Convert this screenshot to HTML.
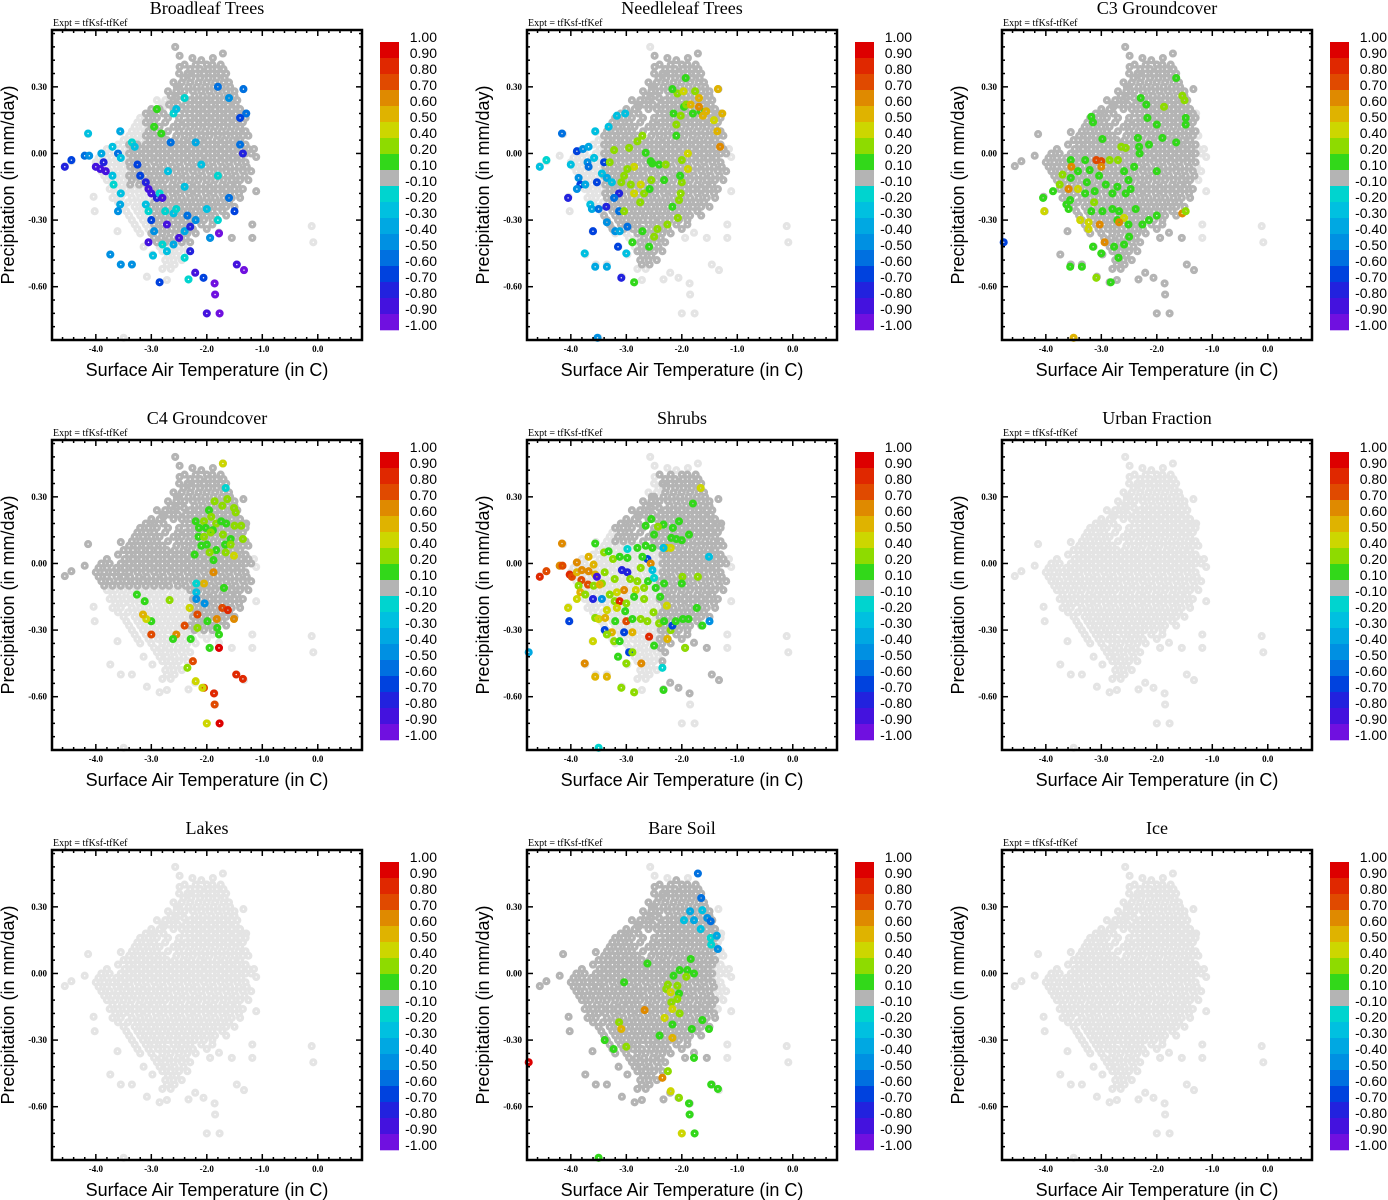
<!DOCTYPE html>
<html><head><meta charset="utf-8"><title>Scatter panels</title>
<style>
html,body{margin:0;padding:0;background:#fff;}
svg{display:block;}
.ttl{font-family:"Liberation Serif",serif;font-size:18px;}
.expt{font-family:"Liberation Serif",serif;font-size:10px;}
.tk{font-family:"Liberation Serif",serif;font-size:9px;font-weight:bold;}
.ax{font-family:"Liberation Sans",sans-serif;font-size:18px;}
.cb{font-family:"Liberation Sans",sans-serif;font-size:14px;}
</style></head>
<body>
<svg id="fig" width="1388" height="1200" viewBox="0 0 1388 1200" xmlns="http://www.w3.org/2000/svg"></svg>
<script>
// ---------- data ----------
const panelTitles = ["Broadleaf Trees","Needleleaf Trees","C3 Groundcover","C4 Groundcover","Shrubs","Urban Fraction","Lakes","Bare Soil","Ice"];
const xTicks = [-4,-3,-2,-1,0];
const xTickLabels = ["-4.0","-3.0","-2.0","-1.0","0.0"];
const yTicks = [0.3,0,-0.3,-0.6];
const yTickLabels = ["0.30","0.00","-0.30","-0.60"];
const cbLabels = ["1.00","0.90","0.80","0.70","0.60","0.50","0.40","0.20","0.10","-0.10","-0.20","-0.30","-0.40","-0.50","-0.60","-0.70","-0.80","-0.90","-1.00"];
const cbColors = ["#dd0000","#e02800","#e04a00","#df8a00","#dfb300","#cdd600","#8edb00","#32d81a","#b4b4b4","#00d4cf","#00c0e0","#00a8e2","#0090e2","#0070e0","#0042de","#2222de","#4412de","#7010e0"];
const cbEdges = [1.0,0.9,0.8,0.7,0.6,0.5,0.4,0.2,0.1,-0.1,-0.2,-0.3,-0.4,-0.5,-0.6,-0.7,-0.8,-0.9,-1.0];

// base cloud: rows of [y, xs]
const baseRows = [
 [0.40,[-2.4,-2.2,-2.0,-1.9,-1.75]],
 [0.36,[-2.5,-2.35,-2.2,-2.05,-1.9,-1.75,-1.65]],
 [0.32,[-2.6,-2.45,-2.3,-2.15,-2.0,-1.85,-1.7,-1.6]],
 [0.28,[-2.7,-2.55,-2.4,-2.25,-2.1,-1.95,-1.8,-1.65,-1.5]],
 [0.24,[-2.9,-2.75,-2.6,-2.3,-2.15,-2.0,-1.85,-1.7,-1.55,-1.45]],
 [0.20,[-3.0,-2.85,-2.6,-2.45,-2.3,-2.15,-2.0,-1.85,-1.7,-1.55,-1.4]],
 [0.16,[-3.2,-3.05,-2.9,-2.7,-2.5,-2.3,-2.15,-2.0,-1.85,-1.7,-1.55,-1.4,-1.3]],
 [0.12,[-3.3,-3.15,-3.0,-2.85,-2.6,-2.45,-2.3,-2.15,-2.0,-1.85,-1.7,-1.55,-1.4]],
 [0.08,[-3.4,-3.25,-3.1,-2.95,-2.8,-2.55,-2.4,-2.25,-2.1,-1.95,-1.8,-1.65,-1.5,-1.35,-1.25]],
 [0.04,[-3.6,-3.4,-3.25,-3.1,-2.95,-2.8,-2.65,-2.5,-2.35,-2.2,-2.05,-1.9,-1.75,-1.6,-1.45,-1.3]],
 [0.00,[-3.9,-3.75,-3.55,-3.4,-3.25,-3.1,-2.95,-2.8,-2.65,-2.5,-2.35,-2.2,-2.05,-1.9,-1.75,-1.6,-1.45,-1.3,-1.2]],
 [-0.04,[-4.0,-3.85,-3.7,-3.55,-3.4,-3.25,-3.1,-2.95,-2.8,-2.65,-2.5,-2.35,-2.2,-2.05,-1.9,-1.75,-1.6,-1.45,-1.3]],
 [-0.08,[-3.9,-3.75,-3.6,-3.45,-3.3,-3.15,-3.0,-2.85,-2.7,-2.55,-2.4,-2.25,-2.1,-1.95,-1.8,-1.65,-1.5,-1.35,-1.2]],
 [-0.12,[-3.8,-3.65,-3.5,-3.35,-3.2,-3.05,-2.9,-2.75,-2.6,-2.45,-2.3,-2.15,-2.0,-1.85,-1.7,-1.55,-1.4,-1.25]],
 [-0.16,[-3.75,-3.6,-3.45,-3.3,-3.15,-3.0,-2.85,-2.7,-2.55,-2.4,-2.25,-2.1,-1.95,-1.8,-1.65,-1.5,-1.35]],
 [-0.20,[-3.7,-3.55,-3.35,-3.2,-3.05,-2.9,-2.75,-2.6,-2.45,-2.3,-2.15,-2.0,-1.85,-1.7,-1.55,-1.4]],
 [-0.24,[-3.5,-3.3,-3.15,-3.0,-2.85,-2.7,-2.55,-2.4,-2.25,-2.1,-1.95,-1.8,-1.65,-1.5]],
 [-0.28,[-3.4,-3.2,-3.05,-2.9,-2.75,-2.6,-2.45,-2.3,-2.15,-2.0,-1.85,-1.65]],
 [-0.32,[-3.3,-3.1,-2.95,-2.8,-2.6,-2.45,-2.3,-2.1,-1.9]],
 [-0.36,[-3.2,-3.0,-2.8,-2.65,-2.5,-2.35,-2.2]],
 [-0.40,[-2.9,-2.75,-2.6,-2.45,-2.3]],
 [-0.44,[-2.8,-2.65,-2.5,-2.35]],
 [-0.48,[-2.75,-2.6,-2.45]],
 [-0.52,[-2.8,-2.65]]
];
// interleaved rows to fill the dense core
const baseRows2 = [
 [0.38,[-2.3,-2.12,-1.98,-1.82,-1.7]],
 [0.34,[-2.42,-2.28,-2.12,-1.97,-1.82,-1.68]],
 [0.30,[-2.5,-2.33,-2.18,-2.03,-1.88,-1.73,-1.58]],
 [0.26,[-2.65,-2.48,-2.22,-2.07,-1.92,-1.77,-1.62,-1.5]],
 [0.22,[-2.8,-2.68,-2.52,-2.38,-2.22,-2.07,-1.92,-1.77,-1.62,-1.48]],
 [0.18,[-3.1,-2.95,-2.78,-2.4,-2.22,-2.07,-1.92,-1.77,-1.62,-1.48,-1.35]],
 [0.14,[-3.25,-3.1,-2.95,-2.75,-2.52,-2.38,-2.22,-2.07,-1.92,-1.77,-1.62,-1.48,-1.35]],
 [0.10,[-3.35,-3.2,-3.05,-2.9,-2.7,-2.5,-2.33,-2.18,-2.03,-1.88,-1.73,-1.58,-1.43,-1.3]],
 [0.06,[-3.5,-3.33,-3.18,-3.03,-2.88,-2.72,-2.58,-2.42,-2.28,-2.12,-1.98,-1.82,-1.68,-1.53,-1.4]],
 [0.02,[-3.8,-3.48,-3.33,-3.18,-3.03,-2.88,-2.72,-2.58,-2.42,-2.28,-2.12,-1.98,-1.82,-1.68,-1.53,-1.38,-1.25]],
 [-0.02,[-3.95,-3.8,-3.63,-3.48,-3.33,-3.18,-3.03,-2.88,-2.72,-2.58,-2.42,-2.28,-2.12,-1.98,-1.82,-1.68,-1.53,-1.38]],
 [-0.06,[-3.95,-3.8,-3.63,-3.5,-3.38,-3.22,-3.08,-2.92,-2.78,-2.62,-2.48,-2.32,-2.18,-2.02,-1.88,-1.72,-1.58,-1.42,-1.28]],
 [-0.10,[-3.85,-3.7,-3.55,-3.4,-3.25,-3.1,-2.95,-2.8,-2.68,-2.52,-2.38,-2.22,-2.08,-1.92,-1.78,-1.62,-1.48,-1.32]],
 [-0.14,[-3.7,-3.53,-3.38,-3.22,-3.08,-2.95,-2.8,-2.62,-2.48,-2.32,-2.18,-2.02,-1.88,-1.72,-1.58,-1.45]],
 [-0.18,[-3.65,-3.5,-3.38,-3.22,-3.08,-2.92,-2.78,-2.62,-2.48,-2.32,-2.18,-2.02,-1.88,-1.72,-1.58,-1.42]],
 [-0.22,[-3.6,-3.42,-3.25,-3.1,-2.95,-2.8,-2.65,-2.5,-2.35,-2.2,-2.05,-1.9,-1.75,-1.6]],
 [-0.26,[-3.45,-3.25,-3.1,-2.95,-2.8,-2.65,-2.5,-2.35,-2.2,-2.05,-1.9,-1.72]],
 [-0.30,[-3.35,-3.15,-3.0,-2.85,-2.7,-2.52,-2.38,-2.22,-2.05,-1.9]],
 [-0.34,[-3.25,-3.05,-2.88,-2.72,-2.55,-2.4,-2.25,-2.0]],
 [-0.38,[-2.95,-2.82,-2.68,-2.52,-2.38]],
 [-0.42,[-2.85,-2.72,-2.58,-2.42]],
 [-0.46,[-2.7,-2.55]],
 [-0.50,[-2.72,-2.58]]
];
const baseOutliers = [[-4.56,-0.057],[-4.44,-0.035],[-4.2,-0.01],[-4.14,0.087],[-4.04,-0.195],[-4.02,-0.26],[-3.61,-0.35],[-3.74,-0.455],[-3.55,-0.5],[-3.35,-0.5],[-3.08,-0.555],[-2.98,-0.455],[-3.14,-0.42],[-2.85,-0.58],[-2.72,-0.57],[-2.33,-0.567],[-2.21,-0.537],[-2.06,-0.56],[-1.86,-0.585],[-1.85,-0.635],[-2.0,-0.72],[-1.77,-0.72],[-1.46,-0.5],[-1.33,-0.525],[-1.94,-0.38],[-1.78,-0.357],[-1.55,-0.38],[-1.18,-0.32],[-1.18,-0.38],[-0.11,-0.327],[-0.08,-0.4],[-1.11,-0.17],[-1.11,-0.016],[-1.15,0.02],[-1.29,0.18],[-1.34,0.29],[-1.71,0.45],[-1.89,0.43],[-2.1,0.42],[-2.26,0.43],[-2.57,0.48],[-2.49,0.44],[-2.49,0.39],[-2.33,0.36],[-2.54,0.3],[-2.55,0.25],[-2.41,0.25],[-2.78,0.21],[-3.01,0.18],[-3.55,0.096],[-3.5,-0.83]];

// dark-gray (|v|<0.1) regions per panel: [xmin,xmax,ymin,ymax]
const broadleafDark = [[-2.7,-1.1,-0.4,0.5],[-3.1,-2.7,0.0,0.2],[-3.0,-2.0,-0.4,0.0],[-3.4,-2.7,-0.15,0.05]];
const needleDark = [[-3.4,-1.2,-0.35,0.45],[-2.8,-2.2,-0.5,-0.35]];
const c3Dark = [[-4.6,-1.3,-0.75,0.5]];
const c4Dark = [[-4.6,-2.3,-0.1,0.35],[-2.3,-1.2,-0.3,0.45],[-2.7,-2.3,0.1,0.5]];
const shrubDark = [[-2.4,-1.2,-0.6,0.4],[-3.2,-2.3,0.1,0.3]];
const urbanDark = [];
const lakesDark = [];
const bareDark = [[-4.6,-1.4,-0.62,0.42]];
const iceDark = [];

// coloured points per panel: [x, y, value]
const broadleafPts = [[-4.56,-0.06,-0.75],[-4.44,-0.03,-0.7],[-4.2,-0.01,-0.55],[-4.12,-0.01,-0.5],[-4.14,0.09,-0.25],[-4.0,-0.06,-0.85],[-3.92,-0.07,-0.85],[-3.86,-0.04,-0.75],[-3.82,-0.08,-0.85],[-3.9,0.0,-0.4],[-3.7,-0.1,-0.25],[-3.68,-0.14,-0.2],[-3.7,0.03,-0.3],[-3.6,0.0,-0.6],[-3.55,-0.02,-0.3],[-3.56,0.1,-0.4],[-3.55,-0.18,-0.3],[-3.56,-0.23,-0.4],[-3.6,-0.26,-0.45],[-3.35,0.05,-0.2],[-3.3,0.03,-0.25],[-3.25,-0.05,-0.7],[-3.2,-0.1,-0.7],[-3.1,-0.13,-0.8],[-3.05,-0.16,-0.85],[-3.0,-0.18,-0.85],[-3.1,-0.23,-0.3],[-3.05,-0.26,-0.2],[-3.0,-0.3,-0.7],[-2.95,-0.35,-0.45],[-2.9,-0.2,-0.8],[-2.85,-0.18,-0.2],[-2.8,-0.2,-0.85],[-2.75,-0.26,-0.2],[-2.7,-0.08,-0.25],[-2.72,-0.32,-0.9],[-2.6,-0.27,-0.3],[-2.55,-0.25,-0.2],[-2.5,-0.38,-0.85],[-2.4,-0.35,-0.4],[-2.35,-0.28,-0.55],[-2.3,-0.33,-0.8],[-2.2,-0.3,-0.5],[-2.9,0.2,0.12],[-2.95,0.12,0.15],[-2.82,0.09,0.12],[-2.6,0.18,-0.2],[-2.55,0.2,-0.25],[-2.4,0.25,-0.2],[-2.65,0.05,-0.6],[-3.05,-0.4,-0.85],[-2.8,-0.41,-0.2],[-2.72,-0.44,-0.3],[-2.6,-0.41,-0.4],[-2.3,-0.44,-0.8],[-2.4,-0.47,-0.2],[-2.97,-0.46,-0.3],[-3.74,-0.455,-0.45],[-3.55,-0.5,-0.5],[-3.35,-0.5,-0.45],[-2.85,-0.58,-0.7],[-2.33,-0.567,-0.2],[-2.21,-0.537,-0.85],[-2.06,-0.56,-0.7],[-1.86,-0.585,-0.95],[-1.85,-0.635,-0.95],[-2.0,-0.72,-0.9],[-1.77,-0.72,-0.95],[-1.46,-0.5,-0.9],[-1.33,-0.525,-0.95],[-1.94,-0.38,-0.5],[-1.78,-0.36,-0.95],[-1.8,-0.3,-0.2],[-1.5,-0.26,-0.7],[-1.6,-0.2,-0.6],[-1.34,0.29,-0.6],[-1.29,0.18,-0.6],[-1.4,0.16,-0.7],[-1.6,0.25,-0.5],[-1.8,0.3,-0.6],[-1.4,0.04,-0.6],[-1.35,0.0,-0.8],[-1.8,-0.1,-0.2],[-2.2,0.05,-0.4],[-2.1,-0.05,-0.3],[-2.4,-0.15,-0.3],[-2.0,-0.25,-0.3]];
const needlePts = [[-4.16,0.09,-0.6],[-4.56,-0.06,-0.25],[-4.44,-0.03,-0.2],[-4.0,-0.05,-0.3],[-4.05,-0.2,-0.75],[-3.89,0.01,-0.65],[-3.78,0.02,-0.5],[-3.68,0.03,-0.4],[-3.7,-0.04,-0.5],[-3.68,-0.06,-0.55],[-3.86,-0.11,-0.5],[-3.83,-0.14,-0.7],[-3.74,-0.14,-0.35],[-3.89,-0.16,-0.45],[-3.58,-0.02,-0.25],[-3.56,0.1,-0.25],[-3.53,-0.13,-0.7],[-3.44,-0.09,-0.25],[-3.4,-0.04,-0.7],[-3.35,-0.11,-0.4],[-3.26,-0.13,-0.3],[-3.65,-0.23,-0.3],[-3.62,-0.25,-0.4],[-3.5,-0.25,-0.55],[-3.36,-0.24,-0.8],[-3.13,-0.18,-0.8],[-3.22,-0.2,-0.6],[-3.13,-0.26,-0.55],[-3.35,-0.31,-0.45],[-3.2,-0.35,-0.5],[-3.12,-0.35,-0.4],[-2.98,-0.33,-0.6],[-3.6,-0.35,-0.7],[-3.75,-0.45,-0.3],[-3.56,-0.51,-0.35],[-3.35,-0.51,-0.4],[-3.15,-0.42,-0.7],[-3.0,-0.45,-0.25],[-3.09,-0.56,-0.75],[-3.02,0.18,-0.25],[-3.17,0.17,-0.25],[-3.32,0.12,-0.3],[-3.52,-0.83,-0.5],[-2.86,-0.58,0.15],[-2.71,-0.35,0.15],[-2.89,-0.4,0.15],[-2.59,-0.42,0.12],[-2.5,-0.375,0.3],[-2.44,-0.34,0.3],[-2.26,-0.32,0.2],[-2.07,-0.29,0.3],[-2.17,-0.24,0.15],[-2.05,-0.21,0.3],[-2.02,-0.18,0.3],[-2.0,-0.13,0.3],[-2.03,-0.1,0.15],[-2.0,-0.03,0.3],[-1.89,0.0,0.45],[-1.89,-0.07,0.45],[-2.1,0.08,0.15],[-2.1,0.13,0.2],[-2.15,0.18,0.12],[-2.02,0.17,0.3],[-1.96,0.21,0.15],[-1.92,0.22,0.2],[-1.8,0.18,0.15],[-1.66,0.19,0.15],[-2.08,0.27,0.3],[-1.97,0.28,0.45],[-2.17,0.29,0.12],[-1.93,0.34,0.15],[-1.76,0.28,0.3],[-1.84,0.22,0.55],[-1.69,0.21,0.65],[-1.69,0.25,0.55],[-1.62,0.17,0.55],[-1.56,0.19,0.5],[-1.42,0.15,0.45],[-1.35,0.29,0.55],[-1.27,0.18,0.55],[-1.36,0.1,0.55],[-1.31,0.03,0.65],[-2.8,0.055,0.3],[-2.71,0.08,0.2],[-2.95,0.025,0.3],[-3.22,0.015,0.3],[-3.3,-0.04,0.3],[-2.86,-0.06,0.45],[-2.98,-0.07,0.2],[-3.04,-0.1,0.3],[-3.09,-0.13,0.2],[-2.92,-0.14,0.3],[-2.74,-0.14,0.45],[-2.68,-0.18,0.3],[-2.75,-0.22,0.2],[-3.04,-0.26,0.3],[-2.86,-0.18,0.45],[-2.58,-0.16,0.12],[-2.53,-0.045,0.15],[-2.41,-0.05,0.15],[-2.29,-0.05,0.2],[-2.65,0.003,0.15],[-2.56,-0.035,0.12],[-2.55,-0.12,0.3],[-2.32,-0.12,0.15]];
const c3Pts = [[-1.65,0.34,0.15],[-1.54,0.26,0.3],[-1.5,0.24,0.3],[-1.87,0.21,0.3],[-2.29,0.25,0.15],[-2.19,0.22,0.15],[-2.17,0.16,0.15],[-2.0,0.13,0.15],[-1.48,0.16,0.15],[-1.48,0.13,0.15],[-1.9,0.07,0.15],[-1.65,0.05,0.15],[-2.14,0.04,0.15],[-2.34,0.07,0.15],[-2.32,0.03,0.15],[-2.31,0.0,0.15],[-2.0,-0.08,0.15],[-2.64,0.03,0.3],[-2.56,0.025,0.3],[-3.18,0.165,0.15],[-3.15,0.14,0.15],[-2.98,0.065,0.15],[-2.7,-0.03,0.3],[-2.85,-0.03,0.3],[-3.09,-0.03,0.7],[-3.0,-0.035,0.7],[-3.0,-0.06,0.65],[-3.55,-0.03,0.15],[-3.54,-0.06,0.65],[-3.7,-0.095,0.3],[-3.75,-0.14,0.3],[-3.55,-0.11,0.15],[-3.87,-0.17,0.15],[-4.05,-0.2,0.15],[-4.03,-0.26,0.45],[-3.59,-0.16,0.6],[-3.42,-0.16,0.45],[-3.56,-0.21,0.15],[-3.63,-0.23,0.15],[-3.59,-0.25,0.15],[-3.29,-0.18,0.15],[-3.42,-0.08,0.15],[-3.29,-0.03,0.15],[-3.21,-0.075,0.15],[-3.04,-0.1,0.15],[-3.26,-0.13,0.15],[-3.12,-0.17,0.15],[-3.13,-0.22,0.3],[-3.18,-0.26,0.15],[-3.38,-0.3,0.45],[-3.23,-0.31,0.45],[-3.23,-0.34,0.45],[-3.03,-0.32,0.6],[-2.98,-0.26,0.15],[-2.92,-0.14,0.15],[-2.8,-0.18,0.15],[-2.71,-0.15,0.15],[-2.56,-0.18,0.15],[-2.47,-0.16,0.15],[-2.59,-0.08,0.15],[-2.51,-0.12,0.15],[-2.41,-0.06,0.15],[-2.8,-0.25,0.15],[-2.68,-0.26,0.15],[-2.71,-0.3,0.15],[-2.59,-0.29,0.45],[-2.68,-0.31,0.65],[-2.51,-0.32,0.15],[-2.38,-0.25,0.15],[-2.26,-0.32,0.15],[-2.14,-0.3,0.15],[-2.0,-0.28,0.15],[-1.54,-0.27,0.65],[-1.48,-0.26,0.3],[-2.5,-0.375,0.15],[-2.94,-0.4,0.6],[-2.77,-0.42,0.15],[-2.59,-0.41,0.15],[-2.69,-0.47,0.15],[-3.15,-0.42,0.15],[-3.0,-0.45,0.15],[-3.56,-0.51,0.15],[-3.35,-0.51,0.15],[-3.09,-0.56,0.3],[-2.83,-0.58,0.15],[-3.5,-0.83,0.55],[-4.76,-0.4,-0.65]];
const c4Pts = [[-1.71,0.45,0.45],[-1.66,0.34,-0.2],[-1.86,0.28,0.3],[-1.96,0.24,0.15],[-1.63,0.29,0.3],[-1.72,0.26,0.3],[-1.51,0.25,0.3],[-1.48,0.23,0.3],[-2.2,0.19,0.15],[-2.05,0.19,0.3],[-1.92,0.21,0.3],[-1.83,0.18,0.3],[-1.74,0.19,0.15],[-1.65,0.18,0.15],[-1.5,0.17,0.3],[-1.38,0.17,0.3],[-1.35,0.11,0.3],[-2.14,0.16,0.15],[-2.02,0.16,0.15],[-1.89,0.15,0.15],[-2.15,0.12,0.15],[-2.05,0.12,0.3],[-1.93,0.14,0.3],[-1.71,0.13,0.3],[-1.57,0.11,0.15],[-2.1,0.08,0.15],[-2.0,0.085,0.15],[-1.83,0.06,0.15],[-1.67,0.085,0.15],[-1.57,0.085,0.3],[-2.22,0.04,0.15],[-1.95,0.05,0.3],[-1.88,0.015,0.15],[-1.66,0.05,0.3],[-1.51,0.035,0.45],[-1.88,-0.04,0.65],[-2.05,-0.09,0.55],[-2.19,-0.09,-0.2],[-2.19,-0.13,-0.3],[-2.19,-0.16,-0.5],[-2.04,-0.18,-0.45],[-1.69,-0.11,0.15],[-1.72,-0.2,0.75],[-1.62,-0.21,0.8],[-1.82,-0.25,0.65],[-1.51,-0.25,0.6],[-1.99,-0.26,0.15],[-2.17,-0.23,0.75],[-2.31,-0.2,0.45],[-2.17,-0.29,0.3],[-2.4,-0.28,0.75],[-2.55,-0.32,0.65],[-2.61,-0.34,0.15],[-2.29,-0.34,0.15],[-1.81,-0.29,0.15],[-1.78,-0.32,0.15],[-1.95,-0.38,0.15],[-1.78,-0.38,0.95],[-3.0,-0.32,0.75],[-3.0,-0.26,0.15],[-3.09,-0.25,0.45],[-3.15,-0.23,0.55],[-3.12,-0.17,0.15],[-2.67,-0.165,0.3],[-3.26,-0.14,0.15],[-2.25,-0.44,0.75],[-2.35,-0.47,0.3],[-2.2,-0.53,0.45],[-2.05,-0.56,0.75],[-2.08,-0.56,0.45],[-1.87,-0.585,0.8],[-1.86,-0.635,0.75],[-2.0,-0.72,0.45],[-1.77,-0.72,0.95],[-1.47,-0.5,0.8],[-1.35,-0.52,0.8]];
const shrubPts = [[-4.56,-0.06,0.8],[-4.44,-0.035,0.75],[-4.16,0.09,0.65],[-4.2,-0.01,0.65],[-4.15,-0.01,0.75],[-4.02,-0.05,0.8],[-3.98,-0.06,0.75],[-3.89,0.005,0.6],[-3.81,-0.075,0.75],[-3.69,-0.095,0.75],[-3.89,-0.04,0.55],[-3.8,-0.03,0.65],[-3.68,0.03,0.55],[-3.59,-0.005,0.55],[-3.56,-0.05,0.5],[-3.68,-0.035,0.65],[-3.86,-0.1,0.3],[-3.83,-0.13,0.55],[-3.89,-0.16,0.45],[-3.74,-0.14,0.3],[-3.56,0.09,0.15],[-4.05,-0.2,0.45],[-4.03,-0.26,-0.7],[-3.6,-0.16,-0.75],[-3.53,-0.06,-0.9],[-3.59,-0.1,0.3],[-3.44,-0.16,-0.5],[-3.44,-0.09,0.3],[-3.48,-0.095,0.55],[-3.39,-0.04,0.3],[-3.4,0.05,0.3],[-3.32,0.055,0.15],[-3.24,0.02,0.3],[-3.12,0.03,0.15],[-2.98,0.065,-0.2],[-3.08,-0.03,-0.8],[-2.98,-0.04,-0.8],[-3.21,-0.07,0.3],[-3.04,-0.12,0.65],[-3.17,-0.13,0.45],[-3.3,-0.14,0.3],[-3.21,-0.17,0.3],[-3.12,-0.17,0.85],[-3.0,-0.18,0.3],[-2.93,-0.07,0.3],[-2.8,-0.08,0.3],[-2.68,-0.11,0.3],[-2.83,-0.12,0.45],[-2.68,-0.16,0.3],[-2.86,-0.15,0.15],[-3.35,-0.21,0.45],[-3.17,-0.2,0.45],[-3.02,-0.215,0.15],[-3.56,-0.245,0.3],[-3.5,-0.25,0.45],[-3.38,-0.245,0.55],[-3.2,-0.26,0.15],[-3.0,-0.26,0.7],[-2.89,-0.25,0.15],[-2.74,-0.25,0.3],[-3.39,-0.3,-0.7],[-3.26,-0.31,0.55],[-3.35,-0.32,0.3],[-3.22,-0.35,0.3],[-3.12,-0.35,0.15],[-3.04,-0.31,-0.7],[-2.89,-0.31,0.55],[-3.6,-0.35,0.45],[-2.95,-0.4,-0.7],[-2.89,-0.4,0.3],[-3.15,-0.42,0.15],[-3.0,-0.45,0.3],[-2.73,-0.45,0.65],[-3.75,-0.45,0.65],[-3.56,-0.51,0.55],[-3.35,-0.51,0.55],[-3.09,-0.56,0.3],[-2.86,-0.58,0.3],[-2.59,-0.33,0.85],[-2.5,-0.37,0.15],[-2.26,-0.34,0.55],[-2.33,-0.57,0.15],[-2.35,-0.47,-0.2],[-2.62,-0.26,0.3],[-2.51,-0.22,0.3],[-2.41,-0.27,0.3],[-2.32,-0.26,0.15],[-2.27,-0.19,0.45],[-2.2,-0.3,0.3],[-2.17,-0.28,-0.7],[-2.11,-0.26,0.15],[-1.98,-0.25,0.15],[-1.88,-0.25,0.15],[-1.73,-0.2,0.15],[-1.63,-0.28,0.15],[-1.5,-0.26,-0.45],[-1.94,-0.38,0.3],[-2.74,-0.02,0.3],[-2.62,0.02,-0.65],[-2.56,0.0,0.65],[-2.53,0.07,0.15],[-2.65,0.08,0.15],[-2.8,0.07,0.15],[-2.71,0.03,0.15],[-2.98,0.025,0.15],[-2.61,-0.08,0.15],[-2.5,-0.065,-0.2],[-2.47,-0.11,0.15],[-2.53,-0.03,-0.3],[-2.32,-0.09,0.15],[-2.39,-0.15,0.15],[-2.28,0.07,0.55],[-2.2,0.07,0.45],[-2.33,0.07,-0.3],[-2.19,0.115,0.15],[-2.1,0.11,0.15],[-2.0,0.105,0.15],[-1.87,0.13,0.15],[-2.65,0.17,0.15],[-2.55,0.2,0.15],[-2.5,0.13,0.15],[-2.33,0.175,0.15],[-2.43,0.165,0.3],[-2.16,0.16,0.15],[-2.05,0.19,0.15],[-1.8,0.27,0.15],[-1.66,0.34,0.45],[-1.51,0.03,-0.3],[-1.99,-0.06,0.3],[-1.71,-0.06,0.3],[-2.0,-0.09,0.15],[-3.5,-0.83,-0.2],[-4.76,-0.4,-0.4]];
const urbanPts = [];
const lakesPts = [];
const barePts = [[-1.71,0.45,-0.55],[-1.65,0.34,-0.6],[-1.85,0.28,-0.35],[-1.63,0.285,-0.3],[-1.96,0.24,-0.3],[-1.78,0.24,-0.4],[-1.54,0.25,-0.5],[-1.48,0.235,-0.6],[-1.66,0.2,-0.3],[-1.48,0.16,-0.2],[-1.37,0.17,-0.35],[-1.47,0.13,-0.2],[-1.35,0.11,-0.45],[-1.84,0.065,0.15],[-2.62,0.045,0.15],[-2.04,0.015,0.15],[-1.9,0.015,0.15],[-1.78,0.0,0.15],[-2.15,-0.01,0.15],[-1.92,-0.015,0.3],[-3.04,-0.04,0.15],[-2.25,-0.05,0.3],[-2.08,-0.055,0.3],[-2.28,-0.07,0.3],[-2.2,-0.085,0.45],[-2.05,-0.09,0.15],[-2.08,-0.115,0.3],[-2.19,-0.13,0.3],[-2.17,-0.16,0.45],[-2.04,-0.18,0.3],[-2.67,-0.165,0.65],[-2.31,-0.2,0.45],[-2.17,-0.23,0.15],[-1.82,-0.25,0.15],[-1.63,-0.21,0.15],[-1.51,-0.25,0.15],[-3.13,-0.22,0.3],[-3.09,-0.25,0.55],[-2.4,-0.28,0.15],[-2.17,-0.29,0.55],[-3.39,-0.3,0.15],[-3.0,-0.33,0.3],[-3.23,-0.34,0.15],[-1.78,-0.38,0.15],[-2.25,-0.44,0.3],[-2.35,-0.47,0.6],[-2.2,-0.53,0.45],[-2.05,-0.56,0.3],[-1.87,-0.585,0.15],[-1.86,-0.635,0.15],[-2.0,-0.72,0.45],[-1.77,-0.72,0.15],[-1.47,-0.5,0.15],[-1.35,-0.52,0.15],[-4.76,-0.4,0.9],[-3.5,-0.83,0.15]];
const icePts = [];

const panelDark = [broadleafDark,needleDark,c3Dark,c4Dark,shrubDark,urbanDark,lakesDark,bareDark,iceDark];
const panelPts = [broadleafPts,needlePts,c3Pts,c4Pts,shrubPts,urbanPts,lakesPts,barePts,icePts];

// ---------- drawing ----------
const NS = "http://www.w3.org/2000/svg";
const svg = document.getElementById('fig');
function mk(tag, attrs, parent){
  const e = document.createElementNS(NS, tag);
  for (const k in attrs) e.setAttribute(k, attrs[k]);
  (parent||svg).appendChild(e);
  return e;
}
const PL=52, PT=30, PW=310, PH=310;
const XMIN=-4.79, XMAX=0.797, YMAX=0.556, YMIN=-0.84;
function sx(v){ return PL + (v - XMIN) / (XMAX - XMIN) * PW; }
function sy(v){ return PT + (YMAX - v) / (YMAX - YMIN) * PH; }
function colorFor(v){
  for (let i=0;i<cbColors.length;i++){
    if (v <= cbEdges[i] && v >= cbEdges[i+1]) return cbColors[i];
  }
  return v>0 ? cbColors[0] : cbColors[cbColors.length-1];
}
function inBoxes(x,y,boxes){
  return boxes.some(b => x>=b[0] && x<=b[1] && y>=b[2] && y<=b[3]);
}
const basePts = [];
baseRows.forEach(r => r[1].forEach(x => basePts.push([x, r[0]])));
baseRows2.forEach(r => r[1].forEach(x => basePts.push([x, r[0]])));
baseOutliers.forEach(p => basePts.push(p));

function marker(g, x, y, col){
  return mk('circle', {cx:sx(x).toFixed(1), cy:sy(y).toFixed(1), r:2.4, fill:'none', stroke:col, 'stroke-width':3.3}, g);
}

panelTitles.forEach((title, idx) => {
  const col = idx % 3, row = Math.floor(idx / 3);
  const g = mk('g', {transform:`translate(${col*475},${row*410})`});
  
  

  const t = mk('text', {x:207, y:14, 'text-anchor':'middle', class:'ttl'}, g);
  t.textContent = title;
  
  
  const ex = mk('text', {x:53, y:26, class:'expt'}, g);
  ex.textContent = 'Expt = tfKsf-tfKef';
  
  

  const pg = mk('g', {}, g);
  
  
  const dark = panelDark[idx];
  const light = basePts.filter(p => !inBoxes(p[0],p[1],dark));
  const darkP = basePts.filter(p => inBoxes(p[0],p[1],dark));
  light.forEach(p => {
    const c = marker(pg, p[0], p[1], '#e4e4e4');
    
    
  });
  darkP.forEach(p => {
    const c = marker(pg, p[0], p[1], '#b4b4b4');
    
    
  });
  panelPts[idx].forEach(p => {
    const c = marker(pg, p[0], p[1], colorFor(p[2]));
    
    
  });

  const fr = mk('rect', {x:PL, y:PT, width:PW, height:PH, fill:'none', stroke:'#000', 'stroke-width':2.5}, g);
  
  

  for (let v=-4.6; v<=0.61; v+=0.2){
    const vv = Math.round(v*10)/10;
    const major = Math.abs(vv - Math.round(vv)) < 1e-6;
    const L = major ? 6 : 3;
    mk('line', {x1:sx(vv), x2:sx(vv), y1:PT+PH, y2:PT+PH-L, stroke:'#000', 'stroke-width':1.5}, g);
    mk('line', {x1:sx(vv), x2:sx(vv), y1:PT, y2:PT+L, stroke:'#000', 'stroke-width':1.5}, g);
  }
  for (let v=-0.78; v<=0.55; v+=0.06){
    const vv = Math.round(v*100)/100;
    const major = Math.abs(vv/0.3 - Math.round(vv/0.3)) < 1e-6;
    const L = major ? 6 : 3;
    mk('line', {x1:PL, x2:PL+L, y1:sy(vv), y2:sy(vv), stroke:'#000', 'stroke-width':1.5}, g);
    mk('line', {x1:PL+PW, x2:PL+PW-L, y1:sy(vv), y2:sy(vv), stroke:'#000', 'stroke-width':1.5}, g);
  }
  xTicks.forEach((v,i) => {
    const tl = mk('text', {x:sx(v), y:352, 'text-anchor':'middle', class:'tk'}, g);
    tl.textContent = xTickLabels[i];
    
    
  });
  yTicks.forEach((v,i) => {
    const tl = mk('text', {x:47, y:sy(v)+3, 'text-anchor':'end', class:'tk'}, g);
    tl.textContent = yTickLabels[i];
    
    
  });
  const xt = mk('text', {x:207, y:376, 'text-anchor':'middle', class:'ax'}, g);
  xt.textContent = 'Surface Air Temperature (in C)';
  
  
  const yt = mk('text', {x:0, y:0, 'text-anchor':'middle', class:'ax', transform:'translate(14,185) rotate(-90)'}, g);
  yt.textContent = 'Precipitation (in mm/day)';
  
  

  const cb = mk('g', {}, g);
  
  
  cbColors.forEach((c,i) => {
    const r = mk('rect', {x:380, y:42+16*i, width:19, height:16.3, fill:c}, cb);
    
    
  });
  cbLabels.forEach((l,i) => {
    const tl = mk('text', {x:437, y:42+16*i, 'text-anchor':'end', class:'cb'}, cb);
    tl.textContent = l;
    
    
  });
});
</script>
</body></html>
